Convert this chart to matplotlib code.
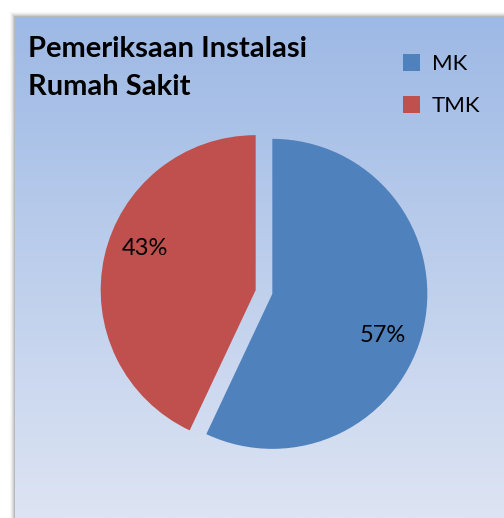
import numpy as np
import matplotlib
matplotlib.use("Agg")
import matplotlib.pyplot as plt
from matplotlib.patches import Rectangle

# data
labels = ["MK", "TMK"]
values = [57, 43]
colors = ["#4F81BD", "#C0504D"]
title = "Pemeriksaan Instalasi\nRumah Sakit"

plt.rcParams["font.family"] = ["Lato", "DejaVu Sans"]

W, H = 504, 518
fig = plt.figure(figsize=(W / 100, H / 100), dpi=100)
fig.patch.set_facecolor("white")

# soft shadow on left / top of the chart area
for i, a in enumerate([0.05, 0.08, 0.12, 0.18, 0.25]):
    off = 5 - i
    fig.patches.append(Rectangle(((15 - off) / W, 0), 1, (H - 17 + off) / H,
                                 transform=fig.transFigure, facecolor="#808080",
                                 alpha=a, edgecolor="none", zorder=0))

# gradient background
bg = fig.add_axes([15 / W, 0, 1 - 15 / W, (H - 17) / H], zorder=1)
top = np.array([157, 185, 229]) / 255
bot = np.array([221, 228, 243]) / 255
t = np.linspace(0, 1, 256)[:, None]
grad = (top * (1 - t) + bot * t)[:, None, :].repeat(2, axis=1)
bg.imshow(grad, aspect="auto", extent=[0, 1, 0, 1])
bg.set_axis_off()

# pie
r_px = 155
cx, cy = 264, 292
half = 1.1 * r_px
ax = fig.add_axes([(cx - half) / W, (H - cy - half) / H, 2 * half / W, 2 * half / H], zorder=2)
ax.set_facecolor("none")
wedges, texts, autotexts = ax.pie(values, colors=colors, startangle=90, counterclock=False,
                                  explode=[0.055, 0.055], autopct="%1.0f%%", pctdistance=0.77,
                                  textprops={"fontsize": 17, "color": "black"})
# excel puts the percentages a bit clockwise of the wedge middle
for w, txt in zip(wedges, autotexts):
    ang = np.deg2rad((w.theta1 + w.theta2) / 2 - 8)
    x0, y0 = w.center
    txt.set_position((x0 + 0.76 * np.cos(ang), y0 + 0.76 * np.sin(ang)))
ax.set_xlim(-1.1, 1.1)
ax.set_ylim(-1.1, 1.1)

fig.text(28 / W, 1 - 36 / H, title, fontsize=21, fontweight="bold", va="top", ha="left",
         linespacing=1.55, zorder=3)

leg = fig.legend(wedges, labels, loc="upper left", bbox_to_anchor=(396 / W, 1 - 47 / H),
                 frameon=False, fontsize=16, handlelength=0.8, handleheight=0.8,
                 labelspacing=1.0, handletextpad=0.5, borderaxespad=0, borderpad=0.3)
leg.set_zorder(3)

fig.savefig("out.png", dpi=100)
